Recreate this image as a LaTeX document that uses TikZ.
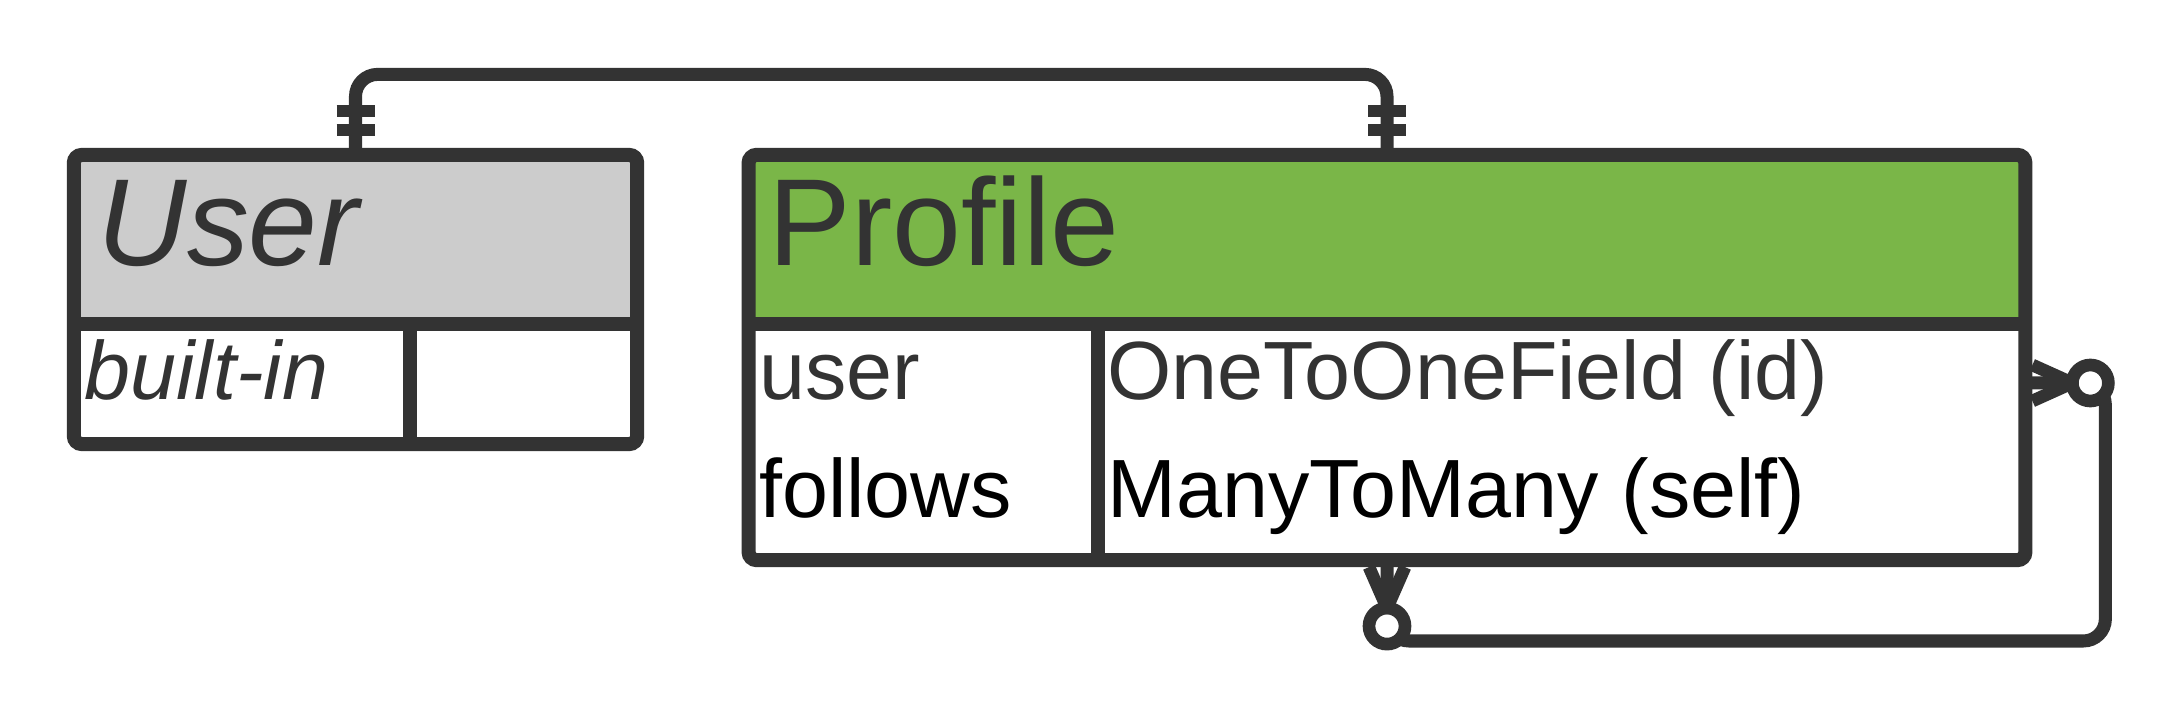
\documentclass[tikz,border=0pt]{standalone}
\usepackage{fontspec}
\setmainfont{Liberation Sans}
\usetikzlibrary{positioning, calc}
\definecolor{ink}{HTML}{333333}
\definecolor{usergrey}{HTML}{CCCCCC}
\definecolor{profgreen}{HTML}{7AB648}

\tikzset{
  tablebox/.style={draw=ink, line width=4pt, fill=white, rounded corners=0.8mm,
    inner sep=0pt, outer sep=0pt,
    path picture={\fill[#1] (path picture bounding box.north west)
      rectangle ([yshift=-1.695cm]path picture bounding box.north east);}},
  rowslot/.style={inner sep=0pt, outer sep=0pt, minimum height=1.18cm},
  rule/.style={ink, line width=4pt},
  title/.style={anchor=base west, inner sep=0pt, text=ink, font=\fontsize{35.2}{40}\selectfont},
  cell/.style={anchor=base west, inner sep=0pt, text=ink, font=\fontsize{23.5}{28}\selectfont},
  conn/.style={ink, line width=3.7pt, rounded corners=2.2mm},
  bar/.style={ink, line width=3.5pt},
  prong/.style={ink, line width=3.6pt},
  ring/.style={circle, draw=ink, fill=white, line width=3.6pt, minimum size=0.36cm, inner sep=0pt},
}

\begin{document}
\begin{tikzpicture}[x=0.01cm, y=-0.01cm]
  \fill[white] (0,0) rectangle (2184,722);
  % tables
  \node[tablebox=usergrey, minimum width=5.63cm, minimum height=2.89cm] (user) at (355.5,299.5) {};
  \node[tablebox=profgreen, minimum width=12.76cm, minimum height=4.05cm] (profile) at (1387,357.5) {};
  \node[rowslot, minimum width=12.76cm] (prow1) at (1387,383) {};
  \node[rowslot, minimum width=12.76cm] (prow2) at (1387,501) {};
  % header and column rules
  \draw[rule] ($(user.north west)+(0,169.5)$) -- ($(user.north east)+(0,169.5)$);
  \draw[rule] ($(user.north west)+(336,169.5)$) -- ($(user.south west)+(336,0)$);
  \draw[rule] ($(profile.north west)+(0,169.5)$) -- ($(profile.north east)+(0,169.5)$);
  \draw[rule] ($(profile.north west)+(349,169.5)$) -- ($(profile.south west)+(349,0)$);

  % texts
  \node[title] (usertitle) at (97,266) {\itshape User};
  \node[title] (proftitle) at (768,266) {Profile};
  \node[cell] (builtin) at (84,400) {\itshape built-in};
  \node[cell] (fuser) at ($(prow1.west)+(10,17)$) {user};
  \node[cell] (ftype1) at ($(prow1.west)+(358,17)$) {OneToOneField (id)};
  \node[cell, text=black] (ffollows) at ($(prow2.west)+(10,17)$) {follows};
  \node[cell, text=black] (ftype2) at ($(prow2.west)+(358,17)$) {ManyToMany (self)};

  % one-to-one link
  \draw[conn] (user.north) -- ++(0,-80.5) -| (profile.north);
  \foreach \d in {44,25} {
    \draw[bar] ($(user.north)+(-19,-\d)$) -- ++(38,0);
    \draw[bar] ($(profile.north)+(-19,-\d)$) -- ++(38,0);
  }

  % self link (follows)
  \draw[conn] (prow1.east) -- ++(80,0) -- ++(0,258) -| (profile.south);
  \coordinate (tipR) at ($(prow1.east)+(47,0)$);
  \coordinate (tipB) at ($(profile.south)+(0,48)$);
  \foreach \d in {-18,0,18} {
    \draw[prong] (tipR) -- ($(prow1.east)+(7,\d)$);
    \draw[prong] (tipB) -- ($(profile.south)+(\d,7)$);
  }
  \node[ring] (ringR) at ($(prow1.east)+(65,0)$) {};
  \node[ring] (ringB) at ($(profile.south)+(0,66)$) {};
\end{tikzpicture}
\end{document}
